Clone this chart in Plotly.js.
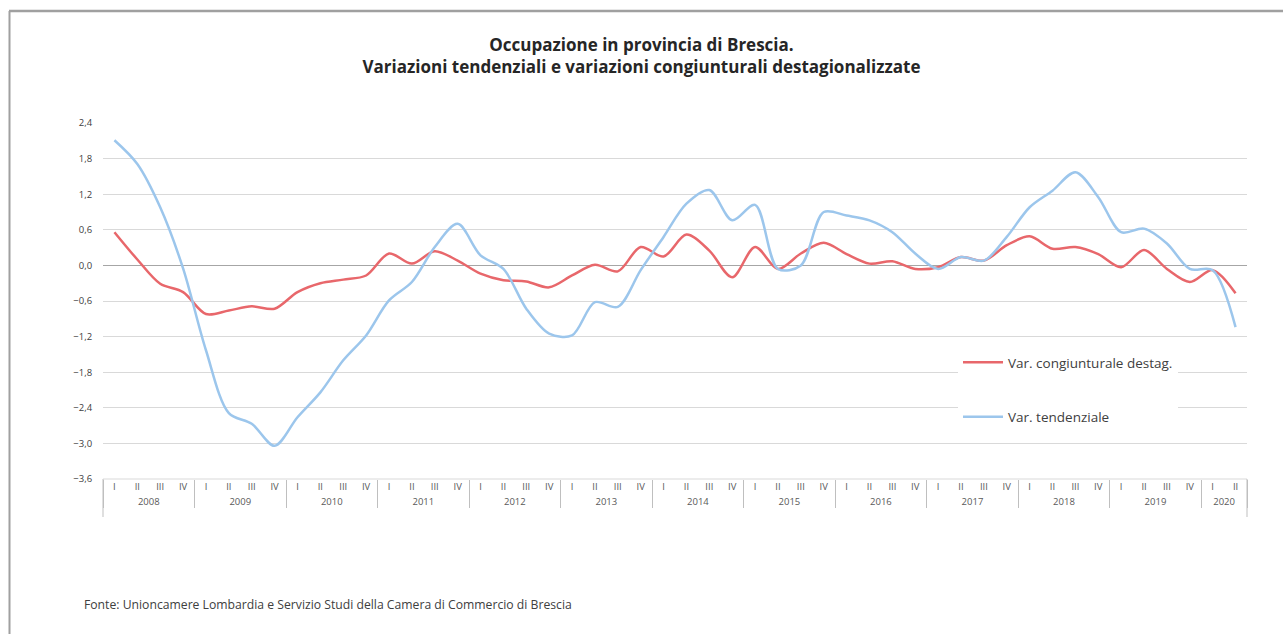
<!DOCTYPE html>
<html>
<head>
<meta charset="utf-8">
<script src="https://cdn.plot.ly/plotly-3.0.1.min.js"></script>
<style>
  html, body { margin: 0; padding: 0; background: #ffffff; }
  #chart { width: 1283px; height: 634px; }
</style>
</head>
<body>
<div id="chart"></div>
<script>
// ---- Data ----
const years = ['2008','2009','2010','2011','2012','2013','2014','2015','2016','2017','2018','2019','2020'];
const quarters = ['I','II','III','IV'];
const quartersPerYear = [4,4,4,4,4,4,4,4,4,4,4,4,2];

const varCongiunturale = [
  0.56, 0.10, -0.31, -0.45,
  -0.82, -0.76, -0.69, -0.73,
  -0.45, -0.30, -0.24, -0.17,
  0.20, 0.03, 0.24, 0.08,
  -0.14, -0.25, -0.27, -0.37,
  -0.17, 0.01, -0.10, 0.31,
  0.15, 0.52, 0.25, -0.20,
  0.31, -0.06, 0.20, 0.38,
  0.19, 0.03, 0.07, -0.06,
  -0.03, 0.14, 0.08, 0.34,
  0.49, 0.28, 0.31, 0.19,
  -0.03, 0.26, -0.06, -0.28,
  -0.08, -0.47
];

const varTendenziale = [
  2.11, 1.71, 0.98, -0.05,
  -1.43, -2.49, -2.67, -3.04,
  -2.56, -2.14, -1.60, -1.18,
  -0.59, -0.28, 0.31, 0.70,
  0.17, -0.06, -0.73, -1.15,
  -1.18, -0.62, -0.70, -0.08,
  0.48, 1.04, 1.27, 0.76,
  1.02, -0.06, 0.00, 0.90,
  0.84, 0.76, 0.56, 0.20,
  -0.06, 0.14, 0.08, 0.48,
  0.98, 1.26, 1.57, 1.15,
  0.56, 0.62, 0.37, -0.06,
  -0.08, -1.04
];

const seriesNames = ['Var. congiunturale destag.', 'Var. tendenziale'];
const titleLines = ['Occupazione in provincia di Brescia.', 'Variazioni tendenziali e variazioni congiunturali destagionalizzate'];
const sourceText = 'Fonte: Unioncamere Lombardia e Servizio Studi della Camera di Commercio di Brescia';

// ---- Build multicategory x ----
const xYears = [], xQuarters = [];
years.forEach((y, i) => {
  for (let q = 0; q < quartersPerYear[i]; q++) {
    xYears.push(y);
    xQuarters.push(quarters[q]);
  }
});
const nPoints = xYears.length;

const FONT = '"Open Sans", Lato, sans-serif';

const traces = [
  {
    x: [xYears, xQuarters],
    y: varCongiunturale,
    name: seriesNames[0],
    type: 'scatter',
    mode: 'lines',
    line: { color: '#E8676B', width: 2.5, shape: 'spline', smoothing: 0.9 },
    legendgroup: 'a'
  },
  {
    x: [xYears, xQuarters],
    y: varTendenziale,
    name: seriesNames[1],
    type: 'scatter',
    mode: 'lines',
    line: { color: '#9CC6EC', width: 2.5, shape: 'spline', smoothing: 0.9 },
    legendgroup: 'b'
  }
];

// plot area: x 103..1247, y 123..479
const L = 103, R = 1247, T = 123, B = 479;
const px = v => (v - L) / (R - L);
const py = v => (B - v) / (B - T);

const layout = {
  width: 1283,
  height: 634,
  margin: { l: L, r: 1283 - R, t: T, b: 634 - B, pad: 0 },
  paper_bgcolor: '#ffffff',
  plot_bgcolor: '#ffffff',
  separators: ',.',
  font: { family: FONT, color: '#595959', size: 9 },
  title: {
    text: '<b>' + titleLines[0] + '</b><br><b>' + titleLines[1] + '</b>',
    font: { family: FONT, size: 17, color: '#262626' },
    x: 0.5, xanchor: 'center',
    y: 1 - 51 / 634, yanchor: 'middle'
  },
  showlegend: true,
  legend: {
    x: px(958), xanchor: 'left',
    y: py(347), yanchor: 'top',
    bgcolor: '#ffffff',
    font: { family: FONT, size: 13.5, color: '#404040' },
    traceorder: 'grouped',
    tracegroupgap: 34,
    itemwidth: 40,
    entrywidth: 250,
    entrywidthmode: 'pixels'
  },
  xaxis: {
    type: 'multicategory',
    range: [-0.5, nPoints - 0.5],
    showgrid: false,
    ticks: 'outside',
    ticklen: 13,
    tickcolor: 'rgba(0,0,0,0)',
    showline: false,
    zeroline: false,
    showdividers: true,
    dividercolor: '#bfbfbf',
    dividerwidth: 1,
    tickfont: { family: FONT, size: 9.5, color: '#595959' },
    fixedrange: true
  },
  yaxis: {
    range: [-3.6, 2.4],
    tick0: -3.6,
    dtick: 0.6,
    tickformat: '.1f',
    showgrid: true,
    gridcolor: '#d9d9d9',
    gridwidth: 1,
    zeroline: true,
    zerolinecolor: '#a6a6a6',
    zerolinewidth: 1,
    showline: false,
    ticks: 'outside',
    ticklen: 8,
    tickcolor: 'rgba(0,0,0,0)',
    tickfont: { family: FONT, size: 9.5, color: '#404040' },
    fixedrange: true
  },
  shapes: [
    // outer frame (top and left)
    { type: 'line', xref: 'paper', yref: 'paper', x0: px(9), x1: px(1283), y0: py(11), y1: py(11),
      line: { color: '#a0a0a0', width: 2.5 } },
    { type: 'line', xref: 'paper', yref: 'paper', x0: px(9.5), x1: px(9.5), y0: py(11), y1: py(634),
      line: { color: '#a0a0a0', width: 2 } },
    // bottom boundary line of the plot
    { type: 'line', xref: 'paper', yref: 'paper', x0: 0, x1: 1, y0: 0, y1: 0,
      line: { color: '#d9d9d9', width: 1 } },
    // category table edges
    { type: 'line', xref: 'paper', yref: 'paper', x0: 0, x1: 0, y0: 0, y1: py(517),
      line: { color: '#bfbfbf', width: 1 } },
    { type: 'line', xref: 'paper', yref: 'paper', x0: 1, x1: 1, y0: 0, y1: py(517),
      line: { color: '#bfbfbf', width: 1 } }
  ],
  annotations: [
    {
      text: sourceText,
      xref: 'paper', yref: 'paper',
      x: px(82), xanchor: 'left',
      y: py(604), yanchor: 'middle',
      showarrow: false,
      font: { family: FONT, size: 12.2, color: '#404040' }
    }
  ]
};

Plotly.newPlot('chart', traces, layout, { displayModeBar: false, staticPlot: true });
</script>
</body>
</html>
